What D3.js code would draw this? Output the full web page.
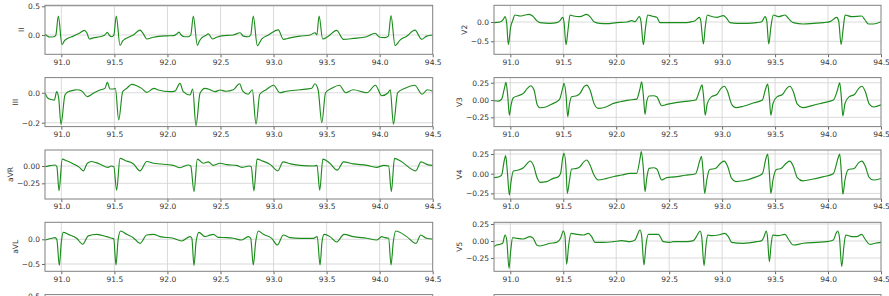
<!DOCTYPE html>
<html lang="en">
<head>
<meta charset="UTF-8">
<title>ECG leads</title>
<script src="https://cdn.jsdelivr.net/npm/d3@7"></script>
<style>
  body { margin: 0; background: #fff; }
  text { font-family: "DejaVu Sans", sans-serif; font-size: 7.5px; fill: #333; }
  .frame { fill: none; stroke: #808080; stroke-width: 1; }
  .grid line { stroke: #d0d0d0; stroke-width: 0.8; }
  .trace { fill: none; stroke: #1c8c1c; stroke-width: 1.15; }
</style>
</head>
<body>
<svg id="chart" width="889" height="296"></svg>
<script>
// time window and ticks
const xDomain = [90.846, 94.5];
const xTicks = [91.0, 91.5, 92.0, 92.5, 93.0, 93.5, 94.0, 94.5];

// [time s, mV] vertices
const leadII = [[90.849,0.01],[90.87,-0.02],[90.893,-0.035],[90.93,-0.03],[90.948,0.0],[90.972,0.33],[91.006,-0.17],[91.03,-0.1],[91.05,-0.07],[91.113,-0.02],[91.17,0.03],[91.217,0.08],[91.24,0.04],[91.264,-0.07],[91.3,-0.05],[91.364,-0.03],[91.41,0.0],[91.433,0.045],[91.45,0.0],[91.475,-0.03],[91.495,0.0],[91.518,0.33],[91.553,-0.18],[91.58,-0.1],[91.6,-0.07],[91.678,0.0],[91.741,0.085],[91.77,0.03],[91.805,-0.07],[91.867,-0.04],[91.993,-0.015],[92.06,-0.01],[92.09,0.02],[92.109,0.05],[92.13,0.0],[92.16,-0.03],[92.197,-0.03],[92.22,0.0],[92.244,0.33],[92.282,-0.18],[92.30,-0.11],[92.323,-0.05],[92.36,-0.01],[92.385,0.02],[92.426,-0.07],[92.464,-0.04],[92.511,-0.015],[92.621,0.0],[92.684,0.04],[92.715,-0.02],[92.762,-0.03],[92.785,0.0],[92.809,0.33],[92.847,-0.185],[92.888,-0.07],[92.951,0.0],[93.045,0.09],[93.092,-0.075],[93.155,-0.05],[93.249,-0.02],[93.344,0.0],[93.391,0.04],[93.408,0.0],[93.429,0.33],[93.463,-0.07],[93.516,-0.02],[93.595,0.08],[93.657,-0.075],[93.752,-0.06],[93.878,-0.03],[93.956,0.03],[94.003,-0.04],[94.05,-0.045],[94.082,-0.02],[94.107,0.34],[94.145,-0.185],[94.192,-0.09],[94.255,-0.02],[94.333,0.085],[94.396,-0.075],[94.443,-0.02],[94.5,0.0]];

const leadIII = [[90.849,-0.004],[90.868,-0.033],[90.893,-0.044],[90.934,-0.049],[90.956,0.007],[90.975,-0.037],[90.997,-0.211],[91.034,-0.015],[91.066,0.007],[91.113,0.016],[91.145,0.02],[91.192,0.011],[91.245,-0.026],[91.301,-0.004],[91.364,0.018],[91.411,0.029],[91.433,0.069],[91.459,0.025],[91.49,0.025],[91.509,0.029],[91.541,-0.182],[91.578,0.007],[91.616,0.029],[91.663,0.056],[91.71,0.047],[91.757,0.029],[91.805,0.002],[91.873,0.029],[91.914,0.018],[92.024,0.007],[92.071,0.011],[92.118,0.062],[92.149,0.007],[92.213,-0.015],[92.238,0.025],[92.269,-0.22],[92.307,-0.004],[92.354,0.029],[92.385,0.025],[92.448,0.007],[92.495,0.018],[92.55,0.01],[92.62,0.02],[92.68,0.06],[92.71,0.01],[92.76,-0.01],[92.80,0.02],[92.835,-0.21],[92.87,-0.01],[92.93,0.02],[93.0,0.05],[93.06,0.0],[93.12,0.01],[93.25,0.02],[93.36,0.03],[93.39,0.06],[93.42,0.02],[93.455,-0.2],[93.49,0.0],[93.55,0.03],[93.62,0.05],[93.68,0.0],[93.75,0.02],[93.88,0.0],[93.96,0.05],[94.02,-0.02],[94.08,0.0],[94.1,0.02],[94.13,-0.21],[94.17,0.0],[94.24,0.03],[94.33,0.05],[94.40,-0.01],[94.45,0.02],[94.5,0.01]];

const leadAVR = [[90.849,-0.01],[90.893,0.005],[90.94,0.015],[90.958,-0.01],[90.978,-0.356],[91.009,0.10],[91.05,0.075],[91.113,0.03],[91.17,-0.02],[91.207,-0.07],[91.245,0.04],[91.285,0.065],[91.36,0.03],[91.44,-0.02],[91.468,0.0],[91.495,-0.01],[91.521,-0.35],[91.553,0.11],[91.6,0.08],[91.68,0.03],[91.741,-0.07],[91.805,0.065],[91.87,0.04],[92.055,0.01],[92.118,-0.025],[92.197,0.015],[92.22,0.0],[92.25,-0.37],[92.282,0.10],[92.338,0.04],[92.385,0.06],[92.433,0.01],[92.495,0.04],[92.56,0.02],[92.65,0.01],[92.70,-0.02],[92.77,0.0],[92.79,-0.01],[92.815,-0.36],[92.845,0.10],[92.9,0.07],[92.97,0.02],[93.04,-0.07],[93.09,0.06],[93.16,0.03],[93.25,0.01],[93.38,0.0],[93.41,0.01],[93.435,-0.35],[93.465,0.10],[93.53,0.04],[93.60,-0.06],[93.66,0.06],[93.75,0.03],[93.88,0.01],[93.97,-0.02],[94.04,0.01],[94.085,0.0],[94.11,-0.37],[94.14,0.11],[94.2,0.07],[94.34,-0.07],[94.39,0.06],[94.45,0.02],[94.5,0.01]];

const leadAVL = [[90.849,-0.014],[90.88,0.006],[90.91,0.02],[90.94,0.033],[90.958,-0.01],[90.981,-0.53],[91.0,-0.05],[91.019,0.14],[91.066,0.1],[91.145,0.02],[91.201,-0.10],[91.254,0.07],[91.333,0.1],[91.427,0.054],[91.477,0.02],[91.494,0.01],[91.515,-0.52],[91.535,-0.01],[91.559,0.168],[91.616,0.1],[91.678,0.033],[91.741,-0.082],[91.805,0.087],[91.867,0.1],[91.93,0.054],[92.055,0.02],[92.134,-0.034],[92.213,0.054],[92.23,0.02],[92.25,-0.534],[92.27,-0.05],[92.297,0.14],[92.354,0.054],[92.385,0.073],[92.433,0.1],[92.479,0.04],[92.558,0.033],[92.621,0.02],[92.7,-0.014],[92.762,0.054],[92.785,0.02],[92.809,-0.52],[92.832,-0.048],[92.857,0.168],[92.904,0.1],[92.983,0.02],[93.036,-0.115],[93.092,0.087],[93.155,0.033],[93.249,0.02],[93.375,0.02],[93.412,0.054],[93.438,-0.52],[93.457,-0.048],[93.476,0.1],[93.532,0.054],[93.595,-0.055],[93.664,0.1],[93.752,0.054],[93.878,0.02],[93.972,-0.014],[94.019,0.054],[94.05,0.033],[94.085,0.02],[94.107,-0.52],[94.129,-0.048],[94.151,0.168],[94.255,0.054],[94.343,-0.082],[94.387,0.087],[94.443,0.02],[94.5,0.006]];

const leadV2 = [[90.846,-0.017],[90.903,0.0],[90.934,0.069],[90.95,0.138],[90.966,-0.035],[90.981,-0.587],[91.004,-0.12],[91.022,0.035],[91.044,0.181],[91.092,0.155],[91.139,0.181],[91.179,0.198],[91.211,0.155],[91.249,0.035],[91.28,-0.017],[91.375,-0.035],[91.438,-0.017],[91.469,0.035],[91.494,0.12],[91.507,0.0],[91.526,-0.587],[91.545,-0.2],[91.564,0.181],[91.595,0.155],[91.658,0.138],[91.721,0.198],[91.753,0.138],[91.79,0.009],[91.847,-0.035],[91.91,-0.043],[92.004,-0.017],[92.099,0.0],[92.146,0.035],[92.177,0.009],[92.218,0.138],[92.234,0.009],[92.256,-0.587],[92.278,-0.12],[92.297,0.181],[92.335,0.155],[92.383,0.121],[92.414,-0.017],[92.539,-0.017],[92.666,-0.017],[92.713,0.009],[92.744,0.035],[92.785,0.12],[92.798,0.035],[92.823,-0.57],[92.841,-0.12],[92.86,0.181],[92.886,0.155],[92.949,0.121],[93.012,0.165],[93.043,0.095],[93.075,-0.017],[93.138,-0.035],[93.232,-0.035],[93.327,-0.017],[93.374,0.009],[93.405,0.138],[93.421,0.035],[93.44,-0.57],[93.461,-0.12],[93.483,0.181],[93.531,0.138],[93.594,0.181],[93.625,0.095],[93.672,-0.017],[93.767,-0.052],[93.861,-0.035],[93.956,-0.017],[94.019,0.009],[94.082,0.12],[94.101,0.017],[94.123,-0.587],[94.145,-0.12],[94.161,0.181],[94.224,0.138],[94.318,0.155],[94.349,0.052],[94.381,-0.052],[94.428,-0.052],[94.5,0.009]];

const leadV3 = [[90.846,-0.01],[90.887,-0.015],[90.918,0.014],[90.944,0.168],[90.959,0.255],[90.975,0.072],[90.991,-0.217],[91.007,-0.072],[91.029,0.034],[91.076,0.063],[91.123,0.096],[91.161,0.168],[91.192,0.207],[91.224,0.145],[91.255,-0.072],[91.28,-0.111],[91.343,-0.096],[91.406,-0.048],[91.438,-0.024],[91.469,0.024],[91.494,0.168],[91.507,0.241],[91.526,0.072],[91.542,-0.241],[91.557,-0.072],[91.579,0.048],[91.627,0.063],[91.658,0.096],[91.696,0.193],[91.721,0.217],[91.753,0.145],[91.79,-0.048],[91.831,-0.12],[91.91,-0.096],[91.973,-0.048],[92.036,-0.024],[92.115,0.0],[92.193,0.014],[92.225,0.168],[92.24,0.265],[92.256,0.072],[92.272,-0.207],[92.288,-0.024],[92.31,0.058],[92.351,0.063],[92.383,0.048],[92.43,-0.082],[92.477,-0.063],[92.55,-0.04],[92.65,-0.02],[92.75,0.0],[92.79,0.15],[92.81,0.22],[92.825,0.05],[92.84,-0.22],[92.86,-0.05],[92.9,0.05],[92.95,0.08],[92.99,0.17],[93.02,0.2],[93.05,0.13],[93.09,-0.06],[93.13,-0.11],[93.2,-0.09],[93.3,-0.04],[93.38,0.0],[93.41,0.16],[93.43,0.23],[93.445,0.05],[93.46,-0.22],[93.48,-0.05],[93.52,0.05],[93.57,0.08],[93.61,0.17],[93.64,0.2],[93.67,0.13],[93.71,-0.06],[93.76,-0.11],[93.85,-0.08],[93.95,-0.04],[94.05,0.0],[94.09,0.15],[94.11,0.25],[94.125,0.05],[94.14,-0.23],[94.16,-0.05],[94.2,0.05],[94.25,0.08],[94.29,0.17],[94.32,0.2],[94.35,0.13],[94.39,-0.06],[94.43,-0.1],[94.5,-0.07]];

const leadV4 = [[90.846,-0.05],[90.887,-0.042],[90.918,-0.017],[90.944,0.174],[90.956,0.229],[90.972,0.026],[90.991,-0.27],[91.007,-0.1],[91.029,0.034],[91.076,0.047],[91.123,0.076],[91.161,0.131],[91.186,0.161],[91.217,0.11],[91.255,-0.059],[91.28,-0.11],[91.343,-0.1],[91.406,-0.059],[91.453,-0.038],[91.475,0.004],[91.494,0.195],[91.507,0.258],[91.526,0.068],[91.538,-0.249],[91.557,-0.1],[91.579,0.059],[91.627,0.068],[91.658,0.089],[91.696,0.153],[91.721,0.174],[91.753,0.11],[91.79,-0.017],[91.831,-0.08],[91.91,-0.059],[91.973,-0.038],[92.052,-0.017],[92.13,0.004],[92.193,0.004],[92.225,0.195],[92.237,0.28],[92.256,0.068],[92.272,-0.228],[92.288,-0.059],[92.31,0.068],[92.351,0.076],[92.383,0.059],[92.43,-0.08],[92.477,-0.05],[92.55,-0.04],[92.65,-0.02],[92.75,0.0],[92.79,0.17],[92.805,0.22],[92.82,0.03],[92.835,-0.25],[92.855,-0.08],[92.88,0.05],[92.94,0.07],[92.99,0.14],[93.02,0.16],[93.05,0.1],[93.09,-0.06],[93.13,-0.1],[93.2,-0.09],[93.3,-0.05],[93.38,0.0],[93.415,0.2],[93.43,0.25],[93.445,0.03],[93.46,-0.25],[93.48,-0.08],[93.51,0.05],[93.56,0.07],[93.61,0.14],[93.64,0.16],[93.67,0.1],[93.71,-0.05],[93.76,-0.09],[93.85,-0.07],[93.95,-0.04],[94.05,0.0],[94.095,0.2],[94.11,0.25],[94.125,0.03],[94.14,-0.26],[94.16,-0.08],[94.19,0.05],[94.25,0.07],[94.29,0.14],[94.32,0.16],[94.35,0.1],[94.39,-0.05],[94.43,-0.08],[94.5,-0.06]];

const leadV5 = [[90.846,-0.083],[90.871,-0.059],[90.903,-0.049],[90.928,-0.034],[90.95,0.088],[90.966,0.015],[90.988,-0.402],[91.003,-0.157],[91.022,0.049],[91.06,0.039],[91.123,0.029],[91.186,0.064],[91.217,0.039],[91.249,-0.059],[91.28,-0.074],[91.375,-0.034],[91.438,-0.02],[91.475,0.039],[91.5,0.147],[91.516,0.078],[91.532,-0.343],[91.551,-0.059],[91.573,0.113],[91.627,0.098],[91.69,0.088],[91.737,0.113],[91.768,0.064],[91.8,-0.02],[91.878,-0.02],[91.973,-0.01],[92.052,0.005],[92.13,-0.01],[92.177,0.015],[92.225,0.162],[92.24,0.078],[92.262,-0.353],[92.281,-0.059],[92.303,0.098],[92.351,0.098],[92.398,0.098],[92.445,-0.01],[92.508,-0.02],[92.539,-0.01],[92.666,-0.01],[92.728,0.005],[92.766,0.088],[92.791,0.147],[92.807,0.064],[92.829,-0.363],[92.848,-0.059],[92.864,0.088],[92.902,0.078],[92.964,0.088],[93.027,0.113],[93.059,0.064],[93.09,-0.02],[93.2,-0.034],[93.327,-0.01],[93.374,0.005],[93.396,0.064],[93.415,0.147],[93.427,0.078],[93.446,-0.304],[93.462,-0.059],[93.478,0.088],[93.531,0.078],[93.594,0.098],[93.625,0.029],[93.672,-0.059],[93.767,-0.034],[93.893,-0.02],[93.987,-0.01],[94.05,0.015],[94.076,0.113],[94.091,0.147],[94.107,0.064],[94.129,-0.377],[94.151,-0.059],[94.167,0.088],[94.224,0.064],[94.271,0.064],[94.318,0.098],[94.349,0.029],[94.396,-0.049],[94.444,-0.034],[94.5,-0.02]];

// y ticks per lead
const yTicksII = [0.0, 0.5];
const yTicksIII = [-0.2, 0.0];
const yTicksAVR = [-0.25, 0.0];
const yTicksAVL = [-0.5, 0.0];
const yTicksV2 = [-0.5, 0.0];
const yTicksV3 = [-0.25, 0.0, 0.25];
const yTicksV4 = [-0.25, 0.0, 0.25];
const yTicksV5 = [-0.25, 0.0, 0.25];

const svg = d3.select("#chart");
const colX = [45, 494];
const colW = [387.7, 387];
const rowY = [5.3, 77.6, 150, 222.3, 294.6];
const panelH = 49;

const panels = [
  { name: "II",  data: leadII,  col: 0, row: 0, ylim: [-0.336, 0.517], ticks: yTicksII,  fmt: ".1f" },
  { name: "III", data: leadIII, col: 0, row: 1, ylim: [-0.226, 0.101], ticks: yTicksIII, fmt: ".1f" },
  { name: "aVR", data: leadAVR, col: 0, row: 2, ylim: [-0.476, 0.231], ticks: yTicksAVR, fmt: ".2f" },
  { name: "aVL", data: leadAVL, col: 0, row: 3, ylim: [-0.648, 0.344], ticks: yTicksAVL, fmt: ".1f" },
  { name: "V2",  data: leadV2,  col: 1, row: 0, ylim: [-0.837, 0.433], ticks: yTicksV2,  fmt: ".1f" },
  { name: "V3",  data: leadV3,  col: 1, row: 1, ylim: [-0.384, 0.325], ticks: yTicksV3,  fmt: ".2f" },
  { name: "V4",  data: leadV4,  col: 1, row: 2, ylim: [-0.321, 0.301], ticks: yTicksV4,  fmt: ".2f" },
  { name: "V5",  data: leadV5,  col: 1, row: 3, ylim: [-0.446, 0.275], ticks: yTicksV5,  fmt: ".2f" }
];

panels.forEach((p, i) => {
  const left = colX[p.col], right = left + colW[p.col];
  const top = rowY[p.row], bottom = top + panelH;

  const x = d3.scaleLinear().domain(xDomain).range([left, right]);
  const y = d3.scaleLinear().domain(p.ylim).range([bottom, top]);

  const g = svg.append("g");

  // grid
  const grid = g.append("g").attr("class", "grid");
  grid.selectAll(".gx").data(xTicks.filter(t => t < xDomain[1])).enter().append("line")
    .attr("x1", d => x(d)).attr("x2", d => x(d)).attr("y1", top).attr("y2", bottom);
  grid.selectAll(".gy").data(p.ticks).enter().append("line")
    .attr("x1", left).attr("x2", right).attr("y1", d => y(d)).attr("y2", d => y(d));

  // trace
  g.append("clipPath").attr("id", "clip" + i)
    .append("rect").attr("x", left).attr("y", top).attr("width", right - left).attr("height", panelH);
  g.append("path")
    .datum(p.data)
    .attr("class", "trace")
    .attr("clip-path", `url(#clip${i})`)
    .attr("d", d3.line().x(d => x(d[0])).y(d => y(d[1])).curve(d3.curveMonotoneX));

  // axes
  const xAxis = g.append("g").attr("transform", `translate(0,${bottom})`)
    .call(d3.axisBottom(x).tickValues(xTicks).tickFormat(d3.format(".1f")).tickSize(3).tickPadding(2));
  const yAxis = g.append("g").attr("transform", `translate(${left},0)`)
    .call(d3.axisLeft(y).tickValues(p.ticks).tickFormat(d3.format(p.fmt)).tickSize(3).tickPadding(2));
  [xAxis, yAxis].forEach(a => {
    a.select(".domain").remove();
    a.selectAll(".tick line").attr("stroke", "#666");
    a.selectAll("text").attr("font-size", null).attr("font-family", null).attr("fill", null);
  });

  g.append("rect").attr("class", "frame")
    .attr("x", left).attr("y", top).attr("width", right - left).attr("height", panelH);

  // lead name, left of the tick labels (bbox is in the axis group's own coordinates)
  const bb = yAxis.node().getBBox();
  const lx = left + bb.x - 4, ly = (top + bottom) / 2;
  g.append("text")
    .attr("transform", `translate(${lx},${ly}) rotate(-90)`)
    .attr("text-anchor", "middle")
    .text(p.name);
});

// top edge of the next row, cut off by the picture
[0, 1].forEach(c => {
  svg.append("rect").attr("class", "frame")
    .attr("x", colX[c]).attr("y", rowY[4]).attr("width", colW[c]).attr("height", panelH);
});
svg.append("text").attr("x", colX[0] - 5).attr("y", rowY[4] + 4).attr("text-anchor", "end").text("0.5");
</script>
</body>
</html>
